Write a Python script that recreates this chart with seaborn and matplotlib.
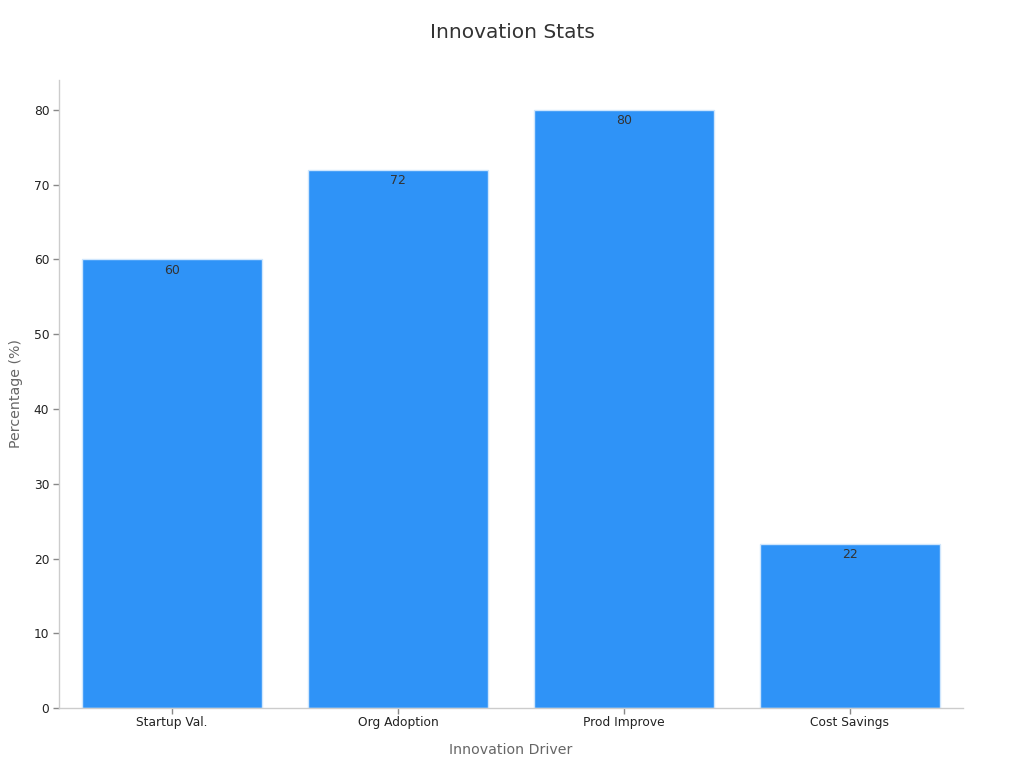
import matplotlib
matplotlib.use("Agg")
import matplotlib.pyplot as plt
import seaborn as sns
import pandas as pd

categories = ["Startup Val.", "Org Adoption", "Prod Improve", "Cost Savings"]
values = [60, 72, 80, 22]

sns.set_theme(style="white")
plt.rcParams['font.family'] = ['DejaVu Sans']

df = pd.DataFrame({"Innovation Driver": categories, "Percentage (%)": values})

fig = plt.figure(figsize=(10.24, 7.68), dpi=100)
ax = fig.add_axes([0.0576, 0.078, 0.8828, 0.818])

sns.barplot(data=df, x="Innovation Driver", y="Percentage (%)", color="#2f93f7",
            saturation=1, width=0.8, edgecolor="#cfe6fd", linewidth=1, ax=ax)

for p, v in zip(ax.patches, values):
    ax.text(p.get_x() + p.get_width() / 2, v - 0.6, f"{v}", ha="center", va="top",
            fontsize=9, color="#333333")

ax.set_xlim(-0.5, 3.5)
ax.set_ylim(0, 84)
ax.set_yticks([0, 10, 20, 30, 40, 50, 60, 70, 80])
ax.tick_params(axis="both", bottom=True, left=True, labelsize=8.8, labelcolor="#222222",
               length=4, width=1, color="#888888", pad=3)
ax.tick_params(axis="x", pad=2)
for s in ["top", "right"]:
    ax.spines[s].set_visible(False)
for s in ["left", "bottom"]:
    ax.spines[s].set_color("#cccccc")
    ax.spines[s].set_linewidth(1)

ax.set_xlabel("Innovation Driver", fontsize=10.2, color="#666666", labelpad=10)
ax.set_ylabel("Percentage (%)", fontsize=10.2, color="#666666", labelpad=8)
fig.suptitle("Innovation Stats", fontsize=14.5, color="#333333", y=0.97)

fig.savefig("out.png", dpi=100)
